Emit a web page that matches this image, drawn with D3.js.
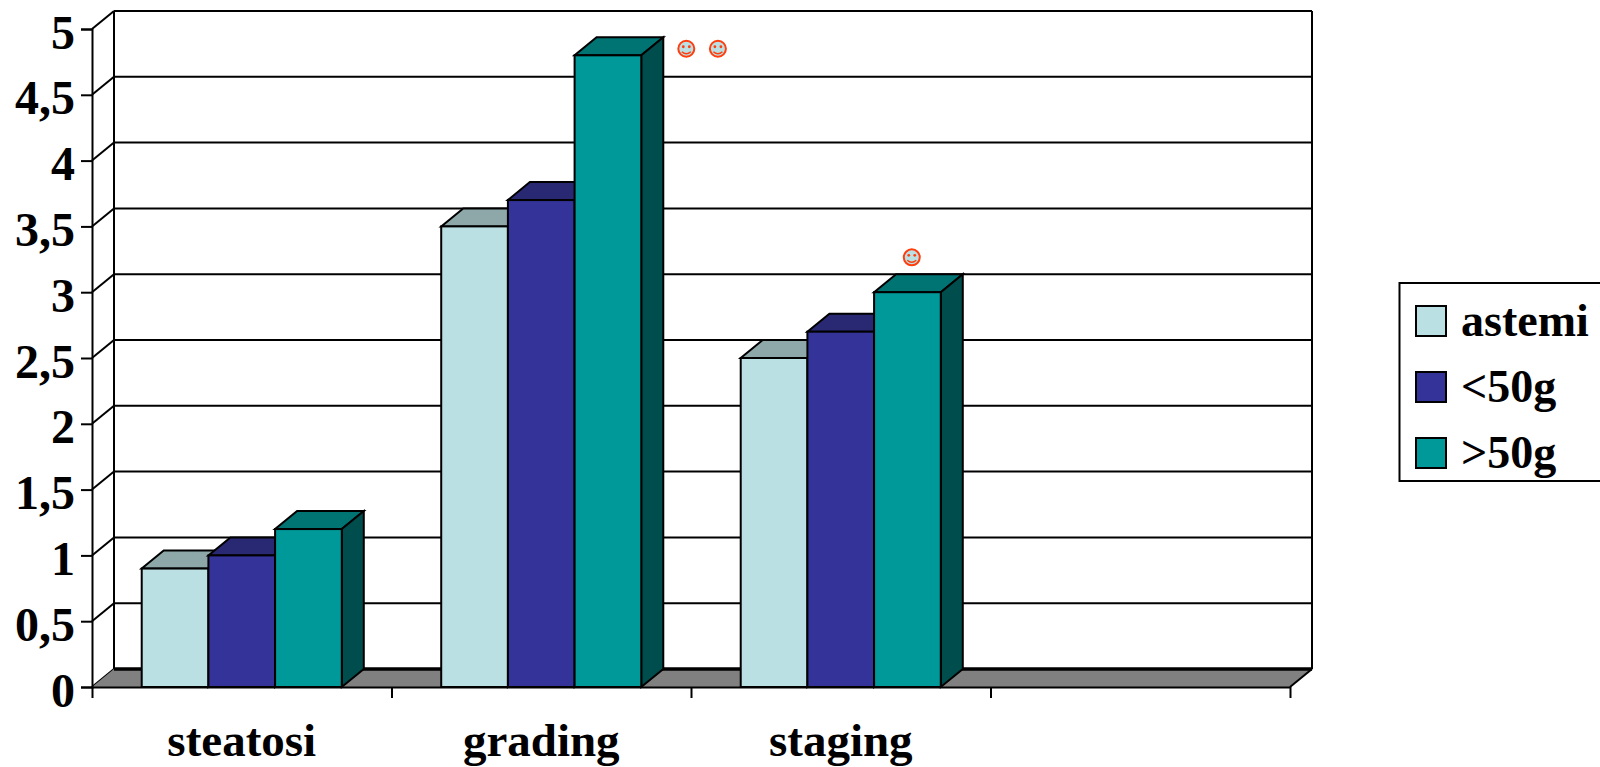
<!DOCTYPE html>
<html>
<head>
<meta charset="utf-8">
<script src="https://cdn.jsdelivr.net/npm/d3@7"></script>
<style>
  html, body { margin: 0; padding: 0; background: #fff; overflow: hidden; }
  svg { display: block; }
  text { font-family: "Liberation Serif", serif; font-weight: bold; fill: #000; }
</style>
</head>
<body>
<div id="chart"></div>
<script>
// Data
const categories = ["steatosi", "grading", "staging", ""];
const seriesNames = ["astemi", "<50g", ">50g"];
const astemi = [0.9, 3.5, 2.5];
const under50 = [1, 3.7, 2.7];
const over50 = [1.2, 4.8, 3];
const yTicks = [0, 0.5, 1, 1.5, 2, 2.5, 3, 3.5, 4, 4.5, 5];

// Smiley markers: category, horizontal position inside the group (0-1 = group width), value height
const markerCategory = ["grading", "grading", "staging"];
const markerPos = [1.225, 1.383, 0.855];
const markerValue = [4.85, 4.85, 3.265];

const frontColors = ["#BBE0E3", "#333399", "#009999"];
const topColors = ["#8EA8AA", "#282873", "#007373"];
const sideColors = ["#6F8688", "#1E1E5C", "#004D4D"];

const width = 1600, height = 767;
const plot = { left: 92, right: 1290, top: 29, bottom: 687 };
const depth = { x: 22, y: 18 }; // 3D offset of the back wall

const svg = d3.select("#chart").append("svg")
    .attr("width", width)
    .attr("height", height);

const x0 = d3.scaleBand()
    .domain(categories)
    .range([plot.left, plot.right])
    .paddingInner(0.332)
    .paddingOuter(0.166);
const x1 = d3.scaleBand()
    .domain(seriesNames)
    .range([0, x0.bandwidth()]);
const xEdges = d3.scaleLinear()
    .domain([0, categories.length])
    .range([plot.left, plot.right]);
const y = d3.scaleLinear()
    .domain([0, 5])
    .range([plot.bottom, plot.top]);

// Back wall: gridlines, left and right walls
const wall = svg.append("g")
    .attr("stroke", "#000")
    .attr("stroke-width", 2)
    .attr("fill", "none");
wall.selectAll(".grid")
    .data(yTicks.slice(1))
    .enter().append("line")
    .attr("x1", plot.left + depth.x)
    .attr("x2", plot.right + depth.x)
    .attr("y1", d => y(d) - depth.y)
    .attr("y2", d => y(d) - depth.y);
wall.selectAll(".slant")
    .data(yTicks)
    .enter().append("line")
    .attr("x1", plot.left)
    .attr("x2", plot.left + depth.x)
    .attr("y1", d => y(d))
    .attr("y2", d => y(d) - depth.y);
wall.selectAll(".wall")
    .data([plot.left + depth.x, plot.right + depth.x])
    .enter().append("line")
    .attr("x1", d => d)
    .attr("x2", d => d)
    .attr("y1", y(5) - depth.y)
    .attr("y2", y(0) - depth.y);

// Floor
svg.append("polygon")
    .attr("points", [
        [plot.left, y(0)], [plot.right, y(0)],
        [plot.right + depth.x, y(0) - depth.y], [plot.left + depth.x, y(0) - depth.y]
    ].join(" "))
    .attr("fill", "#808080");
svg.append("path")
    .attr("d", `M${plot.left + depth.x},${y(0) - depth.y}H${plot.right + depth.x}`)
    .attr("stroke", "#000")
    .attr("stroke-width", 3.5);
svg.append("path")
    .attr("d", `M${plot.right},${y(0)}L${plot.right + depth.x},${y(0) - depth.y}`)
    .attr("stroke", "#000")
    .attr("stroke-width", 2);

// Bars, drawn left to right so each one covers the side of the previous
const rows = seriesNames.map((name, s) => ({
    name, s, values: [astemi, under50, over50][s]
}));
const bars = [];
categories.slice(0, 3).forEach((cat, c) => {
    rows.forEach(r => bars.push({ cat, name: r.name, s: r.s, value: r.values[c] }));
});

const bar = svg.append("g")
    .attr("stroke", "#000")
    .attr("stroke-width", 2)
    .attr("stroke-linejoin", "miter")
    .selectAll("g")
    .data(bars)
    .enter().append("g");

const barLeft = d => x0(d.cat) + x1(d.name);
const barRight = d => barLeft(d) + x1.bandwidth();

bar.append("polygon")
    .attr("fill", d => topColors[d.s])
    .attr("points", d => [
        [barLeft(d), y(d.value)], [barRight(d), y(d.value)],
        [barRight(d) + depth.x, y(d.value) - depth.y], [barLeft(d) + depth.x, y(d.value) - depth.y]
    ].join(" "));
bar.append("polygon")
    .attr("fill", d => sideColors[d.s])
    .attr("points", d => [
        [barRight(d), y(d.value)], [barRight(d) + depth.x, y(d.value) - depth.y],
        [barRight(d) + depth.x, y(0) - depth.y], [barRight(d), y(0)]
    ].join(" "));
bar.append("rect")
    .attr("fill", d => frontColors[d.s])
    .attr("x", barLeft)
    .attr("y", d => y(d.value))
    .attr("width", x1.bandwidth())
    .attr("height", d => y(0) - y(d.value));

// Axes
const yAxis = svg.append("g")
    .attr("transform", `translate(${plot.left},0)`)
    .call(d3.axisLeft(y)
        .tickValues(yTicks)
        .tickSize(11)
        .tickPadding(6)
        .tickFormat(d => String(d).replace(".", ",")));
yAxis.selectAll("line").attr("stroke-width", 2);
yAxis.select(".domain").attr("stroke-width", 2);
yAxis.selectAll("text")
    .attr("dy", 19)
    .style("font-family", '"Liberation Serif", serif')
    .style("font-size", "48px")
    .style("font-weight", "bold");

const xEdgeAxis = svg.append("g")
    .attr("transform", `translate(0,${plot.bottom})`)
    .call(d3.axisBottom(xEdges)
        .ticks(categories.length)
        .tickSize(11)
        .tickSizeOuter(0)
        .tickFormat(""));
xEdgeAxis.selectAll("line").attr("stroke-width", 2);
xEdgeAxis.select(".domain").attr("stroke-width", 2);

const xAxis = svg.append("g")
    .attr("transform", `translate(0,${plot.bottom})`)
    .call(d3.axisBottom(x0).tickSize(0).tickPadding(0));
xAxis.select(".domain").remove();
xAxis.selectAll("text")
    .attr("y", 69)
    .attr("dy", 0)
    .style("font-family", '"Liberation Serif", serif')
    .style("font-size", "47px")
    .style("font-weight", "bold");

// Smiley markers
const smiley = svg.append("g")
    .selectAll("g")
    .data(markerCategory.map((cat, i) => ({ cat, pos: markerPos[i], value: markerValue[i] })))
    .enter().append("g")
    .attr("transform", d => `translate(${x0(d.cat) + d.pos * x0.bandwidth()},${y(d.value)})`);
smiley.append("circle")
    .attr("r", 8)
    .attr("fill", "#BBE0E3")
    .attr("stroke", "#FF3D0D")
    .attr("stroke-width", 2);
smiley.selectAll(".eye")
    .data([-3, 3])
    .enter().append("circle")
    .attr("cx", d => d)
    .attr("cy", -2)
    .attr("r", 1.4)
    .attr("fill", "#FF3D0D");
smiley.append("path")
    .attr("d", "M-4.5,3Q0,7 4.5,3")
    .attr("fill", "none")
    .attr("stroke", "#FF3D0D")
    .attr("stroke-width", 1.4);

// Legend, its box runs off the right edge of the page
const legend = svg.append("g");
legend.append("rect")
    .attr("x", 1399.5)
    .attr("y", 283)
    .attr("width", 220)
    .attr("height", 198)
    .attr("fill", "#fff")
    .attr("stroke", "#000")
    .attr("stroke-width", 2);
const legendY = d3.scalePoint()
    .domain(seriesNames)
    .range([306, 438]);
const legendItem = legend.selectAll(".item")
    .data(seriesNames)
    .enter().append("g")
    .attr("transform", d => `translate(1416,${legendY(d)})`);
legendItem.append("rect")
    .attr("width", 30)
    .attr("height", 30)
    .attr("fill", (d, i) => frontColors[i])
    .attr("stroke", "#000")
    .attr("stroke-width", 2);
legendItem.append("text")
    .attr("x", 45)
    .attr("y", 30)
    .style("font-size", "46px")
    .text(d => d);
</script>
</body>
</html>
